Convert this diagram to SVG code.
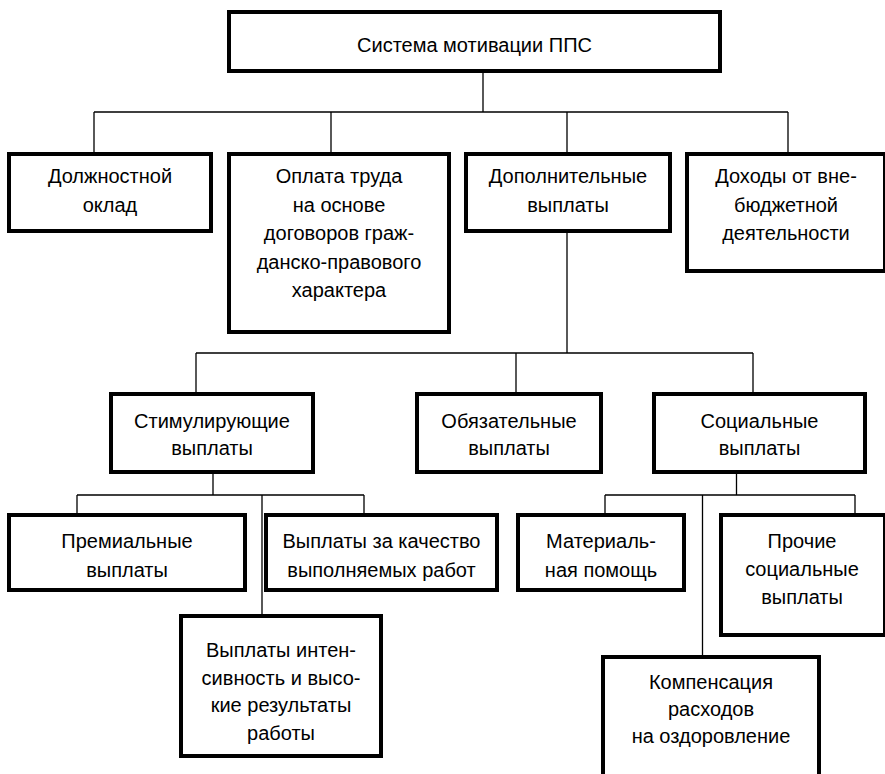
<svg xmlns="http://www.w3.org/2000/svg" width="885" height="774" viewBox="0 0 885 774">
  <style>
    .box { fill: #ffffff; stroke: #000000; stroke-width: 4; }
    .lbl { font-family: "Liberation Sans", Arial, sans-serif; font-size: 20px; fill: #000000; text-anchor: middle; }
    .wire { fill: none; stroke: #000000; stroke-width: 1.3; }
  </style>
  <rect width="885" height="774" fill="#ffffff"/>

  <!-- connectors -->
  <g id="connectors" class="wire">
    <path d="M483,73 V112 M94,112 H788 M94,112 V152 M331,112 V152 M567,112 V152 M788,112 V152"/>
    <path d="M567,233 V353 M196,353 H753 M196,353 V392 M516,353 V392 M753,353 V392"/>
    <path d="M213,474 V495 M77,495 H364 M77,495 V513 M364,495 V513 M262,495 V614"/>
    <path d="M736.5,474 V495 M605,495 H855 M605,495 V513 M855,495 V513 M702.5,495 V655"/>
  </g>

  <!-- root -->
  <g id="root">
    <rect class="box" x="229" y="12" width="491" height="59"/>
    <text class="lbl" x="474.5" y="52">Система мотивации ППС</text>
  </g>

  <!-- first level -->
  <g id="salary">
    <rect class="box" x="9" y="154" width="202" height="77"/>
    <text class="lbl" x="110" y="183">Должностной</text>
    <text class="lbl" x="110" y="211.5">оклад</text>
  </g>
  <g id="contracts">
    <rect class="box" x="229" y="154" width="220" height="178"/>
    <text class="lbl" x="339" y="183">Оплата труда</text>
    <text class="lbl" x="339" y="211.5">на основе</text>
    <text class="lbl" x="339" y="240">договоров граж-</text>
    <text class="lbl" x="339" y="268.5">данско-правового</text>
    <text class="lbl" x="339" y="297">характера</text>
  </g>
  <g id="additional">
    <rect class="box" x="466" y="154" width="204" height="77"/>
    <text class="lbl" x="568" y="183">Дополнительные</text>
    <text class="lbl" x="568" y="211.5">выплаты</text>
  </g>
  <g id="offbudget">
    <rect class="box" x="687" y="154" width="198" height="117"/>
    <text class="lbl" x="786" y="183">Доходы от вне-</text>
    <text class="lbl" x="786" y="211.5">бюджетной</text>
    <text class="lbl" x="786" y="240">деятельности</text>
  </g>

  <!-- second level -->
  <g id="incentive">
    <rect class="box" x="111" y="394" width="202" height="78"/>
    <text class="lbl" x="212" y="428">Стимулирующие</text>
    <text class="lbl" x="212" y="455">выплаты</text>
  </g>
  <g id="mandatory">
    <rect class="box" x="417" y="394" width="184" height="78"/>
    <text class="lbl" x="509" y="428">Обязательные</text>
    <text class="lbl" x="509" y="455">выплаты</text>
  </g>
  <g id="social">
    <rect class="box" x="654" y="394" width="211" height="78"/>
    <text class="lbl" x="759.5" y="428">Социальные</text>
    <text class="lbl" x="759.5" y="455">выплаты</text>
  </g>

  <!-- third level -->
  <g id="bonus">
    <rect class="box" x="9" y="515" width="236" height="75"/>
    <text class="lbl" x="127" y="548">Премиальные</text>
    <text class="lbl" x="127" y="577">выплаты</text>
  </g>
  <g id="quality">
    <rect class="box" x="266" y="515" width="231" height="75"/>
    <text class="lbl" x="381.5" y="548">Выплаты за качество</text>
    <text class="lbl" x="381.5" y="577">выполняемых работ</text>
  </g>
  <g id="intensity">
    <rect class="box" x="181" y="616" width="200" height="140"/>
    <text class="lbl" x="281" y="657">Выплаты интен-</text>
    <text class="lbl" x="281" y="685">сивность и высо-</text>
    <text class="lbl" x="281" y="712">кие результаты</text>
    <text class="lbl" x="281" y="740">работы</text>
  </g>
  <g id="aid">
    <rect class="box" x="518" y="515" width="166" height="75"/>
    <text class="lbl" x="601" y="548">Материаль-</text>
    <text class="lbl" x="601" y="577">ная помощь</text>
  </g>
  <g id="other">
    <rect class="box" x="721" y="515" width="164" height="120"/>
    <text class="lbl" x="802" y="548">Прочие</text>
    <text class="lbl" x="802" y="576">социальные</text>
    <text class="lbl" x="802" y="604">выплаты</text>
  </g>
  <g id="health">
    <rect class="box" x="603" y="657" width="216" height="119"/>
    <text class="lbl" x="711" y="689">Компенсация</text>
    <text class="lbl" x="711" y="716">расходов</text>
    <text class="lbl" x="711" y="743">на оздоровление</text>
  </g>
</svg>
